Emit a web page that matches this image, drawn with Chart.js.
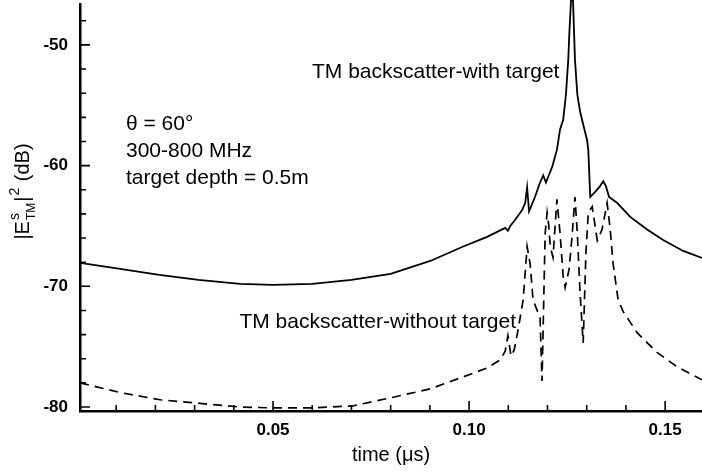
<!DOCTYPE html>
<html lang="en">
<head>
<meta charset="UTF-8">
<title>TM backscatter</title>
<script src="https://cdn.jsdelivr.net/npm/chart.js"></script>
<style>
  html, body { margin: 0; padding: 0; background: #fff; }
</style>
</head>
<body>
<canvas id="backscatterChart" width="702" height="472"></canvas>
<script>
// values: time in microseconds, |E|^2 in dB
var timeWith = [0.0008, 0.011, 0.021, 0.031, 0.0416, 0.05, 0.06, 0.07, 0.08, 0.0901, 0.0985, 0.1046,
  0.1092, 0.1099, 0.1105, 0.1117, 0.1135, 0.1143, 0.1148, 0.1153, 0.1168, 0.1181, 0.1189, 0.1196,
  0.1212, 0.1224, 0.1232, 0.1240, 0.1247, 0.1253, 0.1256, 0.1260, 0.1265, 0.1270, 0.1276, 0.1283,
  0.1291, 0.1301, 0.1304, 0.1309, 0.1321, 0.1334, 0.1342, 0.1349, 0.1357, 0.1378, 0.1411, 0.1454,
  0.1495, 0.1546, 0.1594];
var dbWith = [-68.06, -68.56, -69.06, -69.47, -69.8, -69.88, -69.8, -69.47, -68.97, -67.9, -66.7, -65.9,
  -65.16, -65.4, -65.0, -64.5, -63.7, -63.1, -61.8, -63.8, -62.6, -61.4, -60.8, -61.4,
  -60.1, -58.7, -57.0, -56.2, -54.1, -51.2, -48.8, -46.3, -46.3, -51.2, -54.1, -55.5,
  -56.6, -57.9, -58.7, -62.6, -62.2, -61.7, -61.3, -61.7, -62.6, -63.1, -64.25, -65.3,
  -66.16, -67.07, -67.65];

var timeWithout = [0.0008, 0.0110, 0.0212, 0.0314, 0.0416, 0.0497, 0.0602, 0.0704, 0.0798, 0.0901, 0.0985, 0.1046,
  0.1079, 0.1092, 0.1099, 0.1107, 0.1115, 0.1125, 0.1138, 0.1148, 0.1156, 0.1163, 0.1173, 0.1181,
  0.1186, 0.1194, 0.1199, 0.1203, 0.1207, 0.1214, 0.1224, 0.1232, 0.1240, 0.1245, 0.1255, 0.1263,
  0.1270, 0.1276, 0.1283, 0.1291, 0.1298, 0.1304, 0.1314, 0.1327, 0.1339, 0.1352, 0.1360, 0.1367,
  0.1380, 0.1393, 0.1429, 0.1480, 0.1531, 0.1594];
var dbWithout = [-78.0, -78.8, -79.4, -79.7, -80.0, -80.07, -80.07, -79.9, -79.25, -78.5, -77.5, -76.76,
  -76.1, -75.4, -74.1, -75.77, -75.27, -73.6, -71.1, -66.7, -68.2, -71.1, -71.95, -72.6,
  -77.84, -65.6, -63.9, -64.9, -66.7, -67.6, -62.8, -65.6, -69.2, -70.1, -68.6, -65.7,
  -62.6, -65.6, -70.5, -74.7, -67.2, -63.9, -63.4, -66.2, -65.3, -63.1, -65.3, -68.06,
  -71.1, -72.1, -73.86, -75.5, -76.68, -77.75];

var xTicks = [0.05, 0.10, 0.15];
var xTickLabels = ['0.05', '0.10', '0.15'];
var xMinor = [0.01, 0.02, 0.03, 0.04, 0.06, 0.07, 0.08, 0.09, 0.11, 0.12, 0.13, 0.14];
var yTicks = [-80, -70, -60, -50];
var yMinor = [-78, -76, -74, -72, -68, -66, -64, -62, -58, -56, -54, -52, -48];

var labelWith = 'TM backscatter-with target';
var labelWithout = 'TM backscatter-without target';
var notes = ['\u03b8 = 60\u00b0', '300-800 MHz', 'target depth = 0.5m'];

var FONT = '"Liberation Sans", Arial, Helvetica, sans-serif';

function pts(xs, ys) {
  return xs.map(function (t, i) { return { x: t, y: ys[i] }; });
}

// inward ticks, axis titles and text notes
var extras = {
  id: 'extras',
  afterDraw: function (chart) {
    var ctx = chart.ctx, xs = chart.scales.x, ys = chart.scales.y, a = chart.chartArea;
    ctx.save();
    ctx.strokeStyle = '#000';
    ctx.lineWidth = 1.6;
    ctx.beginPath();
    yTicks.forEach(function (v) { var p = ys.getPixelForValue(v); ctx.moveTo(a.left, p); ctx.lineTo(a.left + 10, p); });
    yMinor.forEach(function (v) { var p = ys.getPixelForValue(v); ctx.moveTo(a.left, p); ctx.lineTo(a.left + 6, p); });
    xTicks.forEach(function (v) { var p = xs.getPixelForValue(v); ctx.moveTo(p, a.bottom); ctx.lineTo(p, a.bottom - 10); });
    xMinor.forEach(function (v) { var p = xs.getPixelForValue(v); ctx.moveTo(p, a.bottom); ctx.lineTo(p, a.bottom - 6); });
    ctx.stroke();

    ctx.fillStyle = '#000';
    // x title
    ctx.font = '20px ' + FONT;
    ctx.textAlign = 'center';
    ctx.textBaseline = 'middle';
    ctx.fillText('time (\u03bcs)', (a.left + a.right) / 2, 455);

    // y title, rotated, with super/subscripts
    ctx.save();
    ctx.translate(22, 191);
    ctx.rotate(-Math.PI / 2);
    ctx.textAlign = 'left';
    ctx.textBaseline = 'alphabetic';
    var big = '20px ' + FONT, sup = '14px ' + FONT, sub = '12px ' + FONT;
    var parts = [
      { t: '|E', f: big, dy: 7 },
      { t: 's', f: sup, dy: -3, stack: 'TM', sf: sub, sdy: 13 },
      { t: '|', f: big, dy: 7 },
      { t: '2', f: sup, dy: -3 },
      { t: ' (dB)', f: big, dy: 7 }
    ];
    var total = 0;
    parts.forEach(function (p) {
      ctx.font = p.f; var w = ctx.measureText(p.t).width;
      if (p.stack) { ctx.font = p.sf; w = Math.max(w, ctx.measureText(p.stack).width); }
      p.w = w + 1; total += p.w;
    });
    var cx = -total / 2;
    parts.forEach(function (p) {
      ctx.font = p.f; ctx.fillText(p.t, cx, p.dy);
      if (p.stack) { ctx.font = p.sf; ctx.fillText(p.stack, cx, p.sdy); }
      cx += p.w;
    });
    ctx.restore();

    // notes
    ctx.font = '21px ' + FONT;
    ctx.textBaseline = 'middle';
    ctx.textAlign = 'left';
    ctx.fillText(labelWith, 312, 72);
    ctx.textAlign = 'right';
    ctx.fillText(labelWithout, 516, 322);
    ctx.textAlign = 'left';
    notes.forEach(function (s, i) { ctx.fillText(s, 126, 124 + i * 27); });
    ctx.restore();
  }
};

var ctx = document.getElementById('backscatterChart').getContext('2d');
var chart = new Chart(ctx, {
  type: 'scatter',
  data: {
    datasets: [{
      label: labelWith,
      data: pts(timeWith, dbWith),
      showLine: true,
      borderColor: '#000',
      borderWidth: 1.8,
      pointRadius: 0,
      tension: 0,
      clip: 8
    }, {
      label: labelWithout,
      data: pts(timeWithout, dbWithout),
      showLine: true,
      borderColor: '#000',
      borderWidth: 1.7,
      borderDash: [9, 6],
      pointRadius: 0,
      tension: 0,
      clip: 8
    }]
  },
  options: {
    responsive: false,
    animation: false,
    devicePixelRatio: 1,
    layout: { padding: { top: 4, right: 0, left: 0, bottom: 0 } },
    plugins: { legend: { display: false }, tooltip: { enabled: false } },
    scales: {
      x: {
        type: 'linear',
        min: 0.00077,
        max: 0.1594,
        afterFit: function (s) { s.height = 61; s.paddingLeft = 0; s.paddingRight = 0; },
        afterBuildTicks: function (s) { s.ticks = xTicks.map(function (v) { return { value: v }; }); },
        grid: { display: true, drawOnChartArea: false, drawTicks: false },
        border: { display: true, color: '#000', width: 2.5 },
        ticks: {
          color: '#000',
          padding: 9,
          maxRotation: 0,
          font: { family: FONT, size: 17, weight: 'bold' },
          callback: function (v) { var i = xTicks.indexOf(v); return i >= 0 ? xTickLabels[i] : ''; }
        }
      },
      y: {
        type: 'linear',
        min: -80.33,
        max: -46.61,
        afterFit: function (s) { s.width = 80; s.paddingTop = 0; s.paddingBottom = 0; },
        afterBuildTicks: function (s) { s.ticks = yTicks.map(function (v) { return { value: v }; }); },
        grid: { display: true, drawOnChartArea: false, drawTicks: false },
        border: { display: true, color: '#000', width: 2.5 },
        ticks: {
          color: '#000',
          padding: 12,
          font: { family: FONT, size: 17, weight: 'bold' },
          callback: function (v) { return String(v); }
        }
      }
    }
  },
  plugins: [extras]
});
</script>
</body>
</html>
